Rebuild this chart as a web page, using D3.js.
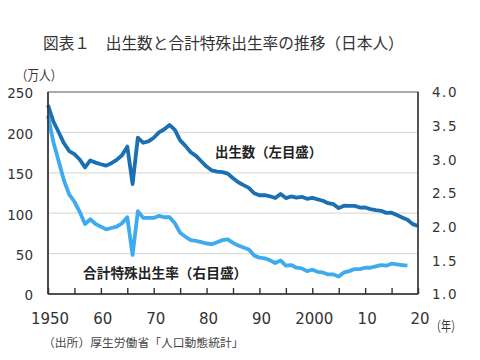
<!DOCTYPE html>
<html><head><meta charset="utf-8">
<script src="https://cdn.jsdelivr.net/npm/d3@7"></script>
<style>body{margin:0;background:#fff}svg{display:block}</style>
</head><body>
<svg id="c" width="480" height="360"></svg>
<script>
const years = d3.range(1950, 2021);
const births = [233.8,213.8,200.5,186.8,176.9,173.1,166.5,156.7,165.3,162.6,
160.6,158.9,161.9,166.0,171.7,182.4,136.1,193.6,187.2,188.9,
193.4,200.1,203.9,209.2,203.0,190.1,183.3,175.5,170.9,164.3,
157.7,152.9,151.5,150.9,149.0,143.2,138.3,134.7,131.4,124.7,
122.2,122.3,120.9,118.8,123.8,118.7,120.7,119.2,120.3,117.8,
119.1,117.1,115.4,112.4,111.1,106.3,109.3,109.0,109.1,107.0,
107.1,105.1,103.7,103.0,100.4,100.6,97.7,94.6,91.8,86.5,84.1];
const tfrYears = d3.range(1950, 2019);
const tfr = [3.65,3.26,2.98,2.69,2.48,2.37,2.22,2.04,2.11,2.04,
2.00,1.96,1.98,2.00,2.05,2.14,1.58,2.23,2.13,2.13,
2.13,2.16,2.14,2.14,2.05,1.91,1.85,1.80,1.79,1.77,
1.75,1.74,1.77,1.80,1.81,1.76,1.72,1.69,1.66,1.57,
1.54,1.53,1.50,1.46,1.50,1.42,1.43,1.39,1.38,1.34,
1.36,1.33,1.32,1.29,1.29,1.26,1.32,1.34,1.37,1.37,
1.39,1.39,1.41,1.43,1.42,1.45,1.44,1.43,1.42];
const leftTicks = [0,50,100,150,200,250];
const rightTicks = [1.0,1.5,2.0,2.5,3.0,3.5,4.0];
const xTickVals = [1950,1960,1970,1980,1990,2000,2010,2020];
const xTickLabels = ["1950","60","70","80","90","2000","10","20"];

const L=48,R=418,T=92,B=294;
const svg=d3.select("#c");
const x=d3.scaleLinear().domain([1950,2020]).range([L,R]);
const yL=d3.scaleLinear().domain([0,250]).range([B,T]);
const yR=d3.scaleLinear().domain([1,4]).range([B,T]);
const num="DejaVu Sans, Verdana, sans-serif";
const jp="'Noto Sans CJK JP', sans-serif";
const txt="#333";

// gridlines
svg.append("g").selectAll("line").data([50,100,150,200]).join("line")
  .attr("x1",L).attr("x2",R).attr("y1",d=>yL(d)).attr("y2",d=>yL(d))
  .attr("stroke","#dcdcdc").attr("stroke-width",1.2);

// lines
const lineB=d3.line().x((d,i)=>x(years[i])).y(d=>yL(d));
const lineT=d3.line().x((d,i)=>x(tfrYears[i])).y(d=>yR(d));
svg.append("path").datum(tfr).attr("d",lineT).attr("fill","none")
  .attr("stroke","#3eabef").attr("stroke-width",3.8).attr("stroke-linejoin","round");
svg.append("path").datum(births).attr("d",lineB).attr("fill","none")
  .attr("stroke","#1a70b0").attr("stroke-width",3.8).attr("stroke-linejoin","round");

// frame
svg.append("rect").attr("x",L).attr("y",T).attr("width",R-L).attr("height",B-T)
  .attr("fill","none").attr("stroke","#555").attr("stroke-width",1);
svg.append("line").attr("x1",L).attr("x2",L).attr("y1",T).attr("y2",B).attr("stroke","#333").attr("stroke-width",1.6);
svg.append("line").attr("x1",L).attr("x2",R).attr("y1",B).attr("y2",B).attr("stroke","#333").attr("stroke-width",1.6);
svg.append("line").attr("x1",R).attr("x2",R).attr("y1",T).attr("y2",B).attr("stroke","#333").attr("stroke-width",1.4);

// x axis ticks (inside, every 5 years)
const xAxis=d3.axisBottom(x).tickValues(d3.range(1950,2021,5)).tickSize(-6).tickFormat("");
const gx=svg.append("g").attr("transform",`translate(0,${B})`).call(xAxis);
gx.select(".domain").remove();
gx.selectAll(".tick line").attr("stroke","#333").attr("stroke-width",1.4);
svg.append("g").selectAll("text").data(xTickVals).join("text")
  .attr("x",d=>x(d)+2).attr("y",324).attr("text-anchor","middle")
  .attr("font-family",num).attr("font-size",15).attr("fill",txt)
  .text((d,i)=>xTickLabels[i]);

// left axis labels
const gl=svg.append("g").attr("transform",`translate(${L},1.5)`)
  .call(d3.axisLeft(yL).tickValues(leftTicks).tickSize(0).tickPadding(15).tickFormat(d3.format("d")));
gl.select(".domain").remove();
gl.selectAll("text").attr("font-family",num).attr("font-size",13.5).attr("fill",txt);

// right axis labels
const gr=svg.append("g").attr("transform",`translate(${R},0.5)`)
  .call(d3.axisRight(yR).tickValues(rightTicks).tickSize(0).tickPadding(14).tickFormat(d3.format(".1f")));
gr.select(".domain").remove();
gr.selectAll("text").attr("font-family",num).attr("font-size",13.5).attr("fill",txt).attr("letter-spacing",1.5);

// texts
svg.append("text").attr("x",43).attr("y",49).attr("font-family",jp).attr("font-size",15.7)
  .attr("fill",txt).text("図表１　出生数と合計特殊出生率の推移（日本人）");
svg.append("text").attr("x",16).attr("y",80).attr("font-family",jp).attr("font-size",13.5)
  .attr("fill",txt).attr("textLength",46).attr("lengthAdjust","spacingAndGlyphs").text("（万人）");
svg.append("text").attr("x",431).attr("y",331).attr("font-family",jp).attr("font-size",14)
  .attr("fill",txt).attr("textLength",30).attr("lengthAdjust","spacingAndGlyphs").text("（年）");
svg.append("text").attr("x",215).attr("y",157).attr("font-family",jp).attr("font-size",13.4)
  .attr("font-weight","bold").attr("fill","#222").text("出生数（左目盛）");
svg.append("text").attr("x",83).attr("y",278).attr("font-family",jp).attr("font-size",13.7)
  .attr("font-weight","bold").attr("fill","#222").text("合計特殊出生率（右目盛）");
svg.append("text").attr("x",43).attr("y",347).attr("font-family",jp).attr("font-size",11.8)
  .attr("fill","#444").text("（出所）厚生労働省「人口動態統計」");
</script>
</body></html>
